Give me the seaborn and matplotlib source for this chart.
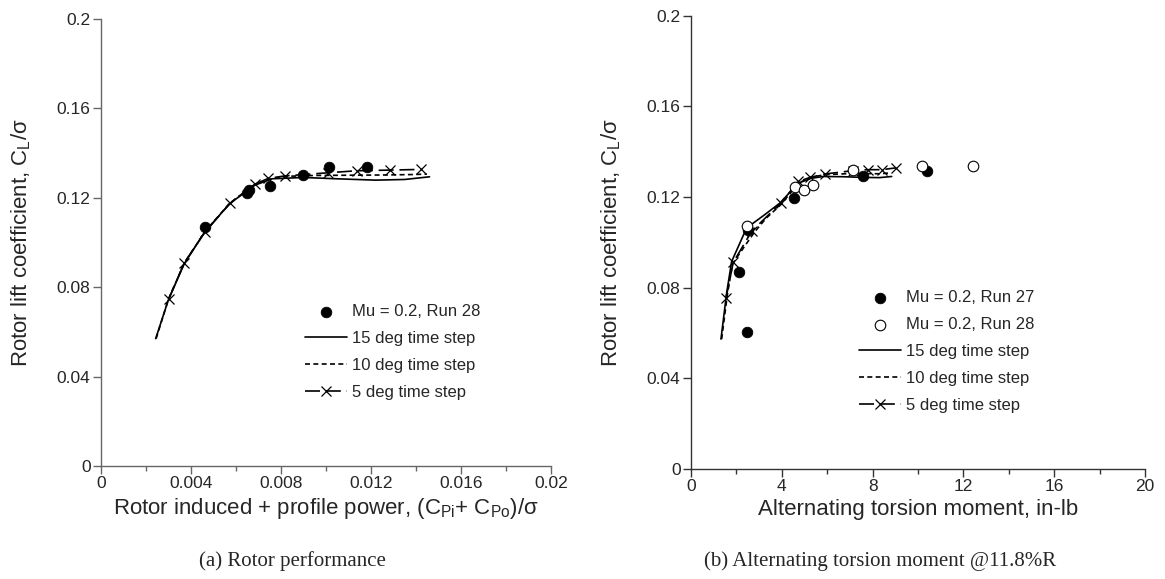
import matplotlib
matplotlib.use('Agg')
import matplotlib.pyplot as plt
import seaborn as sns
from matplotlib.ticker import MultipleLocator, FuncFormatter

# (a) rotor performance
pw15_x = [0.00243, 0.0030, 0.0037, 0.0046, 0.0057, 0.0068, 0.0076, 0.0090, 0.0105, 0.0122, 0.0135, 0.0146]
pw15_y = [0.057, 0.0745, 0.0905, 0.1045, 0.1172, 0.1255, 0.1285, 0.1291, 0.1285, 0.1279, 0.1282, 0.1294]
pw10_x = [0.00245, 0.0030, 0.0037, 0.0046, 0.0057, 0.0068, 0.0076, 0.0082, 0.0095, 0.0110, 0.0125, 0.0138, 0.01448]
pw10_y = [0.057, 0.0747, 0.0907, 0.1046, 0.1174, 0.1258, 0.1286, 0.1296, 0.1300, 0.1301, 0.1302, 0.1304, 0.1306]
pw5_x = [0.00302, 0.0037, 0.00462, 0.00573, 0.00684, 0.00744, 0.00818, 0.0101, 0.01136, 0.01284, 0.01421]
pw5_y = [0.0749, 0.0909, 0.1047, 0.1175, 0.1261, 0.1287, 0.1298, 0.1312, 0.1321, 0.1324, 0.1327]
run28_pw_x = [0.00462, 0.00648, 0.00659, 0.00751, 0.00896, 0.01015, 0.01181]
run28_pw_y = [0.107, 0.1222, 0.1237, 0.1252, 0.1303, 0.1336, 0.1336]

# (b) alternating torsion moment
tq15_x = [1.32, 1.57, 1.79, 2.45, 3.2, 3.92, 4.73, 5.3, 5.83, 6.7, 7.59, 8.3, 8.84]
tq15_y = [0.0573, 0.0776, 0.0915, 0.1063, 0.1118, 0.1173, 0.1261, 0.1282, 0.129, 0.1289, 0.1286, 0.1285, 0.129]
tq10_x = [1.35, 1.6, 1.83, 2.38, 2.8, 3.3, 3.95, 4.75, 5.3, 5.9, 6.8, 7.6, 8.3, 8.8]
tq10_y = [0.0573, 0.0768, 0.0905, 0.0985, 0.1045, 0.1105, 0.1165, 0.1262, 0.1287, 0.1298, 0.1302, 0.1303, 0.1302, 0.1306]
tq5_x = [1.54, 1.86, 2.67, 3.95, 4.73, 5.24, 5.9, 7.15, 7.81, 8.4, 9.03]
tq5_y = [0.0754, 0.0911, 0.1048, 0.1173, 0.1268, 0.1286, 0.1301, 0.1316, 0.132, 0.132, 0.1328]
run27_tq_x = [2.13, 2.45, 2.52, 4.55, 7.56, 10.38]
run27_tq_y = [0.0868, 0.0604, 0.1052, 0.1195, 0.1294, 0.1313]
run28_tq_x = [2.48, 4.58, 4.99, 5.36, 7.15, 10.16, 12.44]
run28_tq_y = [0.1073, 0.1244, 0.1232, 0.1254, 0.1318, 0.1338, 0.1338]

sns.set_style('ticks')
plt.rcParams['font.family'] = ['Liberation Sans', 'DejaVu Sans']
plt.rcParams['mathtext.default'] = 'regular'

W, H = 1165, 579
fig = plt.figure(figsize=(W / 100, H / 100), dpi=100)


def px_axes(x0, x1, y_top, y_bot):
    return fig.add_axes([x0 / W, 1 - y_bot / H, (x1 - x0) / W, (y_bot - y_top) / H])


ax1 = px_axes(101, 551, 19, 466)
ax2 = px_axes(691, 1145, 15.5, 469)

line_kw = dict(color='black', lw=1.2, estimator=None, sort=False)


def draw_panel(ax, l15, l10, l5):
    sns.lineplot(x=l15[0], y=l15[1], ax=ax, label='15 deg time step', **line_kw)
    sns.lineplot(x=l10[0], y=l10[1], ax=ax, label='10 deg time step', **line_kw)
    ax.lines[-1].set_linestyle((0, (3, 2)))
    sns.lineplot(x=l5[0], y=l5[1], ax=ax, label='5 deg time step', **line_kw)
    ln = ax.lines[-1]
    ln.set_linestyle((0, (9, 3.5)))
    ln.set_marker('x')
    ln.set_markersize(6.5)
    ln.set_markeredgewidth(0.9)
    ln.set_markeredgecolor('black')


sns.scatterplot(x=run28_pw_x, y=run28_pw_y, ax=ax1, color='black', s=58, edgecolor='black',
                linewidth=0.6, label='Mu = 0.2, Run 28', zorder=5)
draw_panel(ax1, (pw15_x, pw15_y), (pw10_x, pw10_y), (pw5_x, pw5_y))

sns.scatterplot(x=run27_tq_x, y=run27_tq_y, ax=ax2, color='black', s=58, edgecolor='black',
                linewidth=0.6, label='Mu = 0.2, Run 27', zorder=5)
sns.scatterplot(x=run28_tq_x, y=run28_tq_y, ax=ax2, facecolor='white', s=58, edgecolor='black',
                linewidth=0.8, label='Mu = 0.2, Run 28', zorder=5)
draw_panel(ax2, (tq15_x, tq15_y), (tq10_x, tq10_y), (tq5_x, tq5_y))

fmt = FuncFormatter(lambda v, p: '%g' % round(v, 6))
for ax, xmax, xmaj, spine_col in [(ax1, 0.02, 0.004, '#666666'), (ax2, 20, 4, '#333333')]:
    ax.set_xlim(0, xmax)
    ax.set_ylim(0, 0.2)
    ax.xaxis.set_major_locator(MultipleLocator(xmaj))
    ax.xaxis.set_minor_locator(MultipleLocator(xmaj / 2))
    ax.yaxis.set_major_locator(MultipleLocator(0.04))
    ax.xaxis.set_major_formatter(fmt)
    ax.yaxis.set_major_formatter(fmt)
    sns.despine(ax=ax)
    for s in ['left', 'bottom']:
        ax.spines[s].set_color(spine_col)
        ax.spines[s].set_linewidth(1.0)
    ax.tick_params(which='major', length=6, width=1.0, color=spine_col, labelsize=12.5, pad=1.5)
    ax.tick_params(which='minor', length=3.5, width=1.0, color=spine_col)
    ax.set_ylabel('Rotor lift coefficient, C$_{L}$/σ', fontsize=16)
    ax.yaxis.set_label_coords(-0.15, 0.5)

ax1.set_xlabel('Rotor induced + profile power, (C$_{Pi}$+ C$_{Po}$)/σ', fontsize=16)
ax2.set_xlabel('Alternating torsion moment, in-lb', fontsize=16)
ax1.xaxis.set_label_coords(0.5, -0.066)
ax2.xaxis.set_label_coords(0.5, -0.066)

leg_kw = dict(loc='upper left', frameon=False, fontsize=12, handlelength=2.5, handletextpad=0.35,
              labelspacing=0.72, borderpad=0, borderaxespad=0, bbox_transform=fig.transFigure)
ax1.legend(bbox_to_anchor=(305 / W, 1 - 304 / H), **leg_kw)
ax2.legend(bbox_to_anchor=(859 / W, 1 - 290 / H), **leg_kw)

fig.text(292 / W, 1 - 561 / H, '(a) Rotor performance', ha='center', va='center',
         fontsize=15, family=['Liberation Serif', 'DejaVu Serif'])
fig.text(880 / W, 1 - 561 / H, '(b) Alternating torsion moment @11.8%R', ha='center', va='center',
         fontsize=15, family=['Liberation Serif', 'DejaVu Serif'])

fig.savefig('out.png', dpi=100)
